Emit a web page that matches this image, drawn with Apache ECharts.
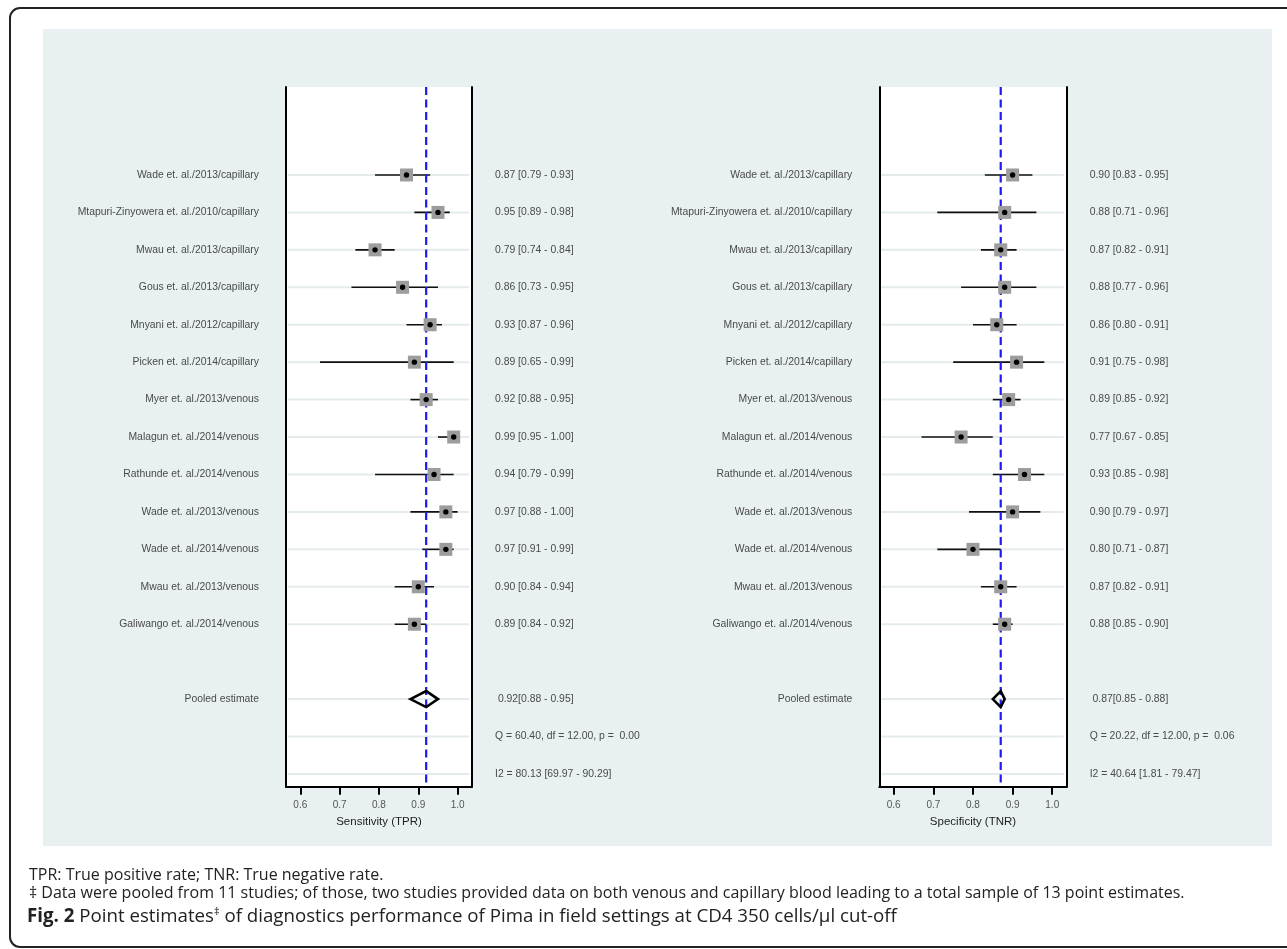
<!DOCTYPE html>
<html><head><meta charset="utf-8">
<script src="https://cdn.jsdelivr.net/npm/echarts@6/dist/echarts.min.js"></script>
<style>html,body{margin:0;padding:0;background:#fff;overflow:hidden}#c{width:1287px;height:949px}</style>
</head><body><div id="c"></div>
<script>
// ---------- DATA ----------
const studies = [
  'Wade et. al./2013/capillary',
  'Mtapuri-Zinyowera et. al./2010/capillary',
  'Mwau et. al./2013/capillary',
  'Gous et. al./2013/capillary',
  'Mnyani et. al./2012/capillary',
  'Picken et. al./2014/capillary',
  'Myer et. al./2013/venous',
  'Malagun et. al./2014/venous',
  'Rathunde et. al./2014/venous',
  'Wade et. al./2013/venous',
  'Wade et. al./2014/venous',
  'Mwau et. al./2013/venous',
  'Galiwango et. al./2014/venous'
];
const sensEst = [0.87, 0.95, 0.79, 0.86, 0.93, 0.89, 0.92, 0.99, 0.94, 0.97, 0.97, 0.90, 0.89];
const sensLo  = [0.79, 0.89, 0.74, 0.73, 0.87, 0.65, 0.88, 0.95, 0.79, 0.88, 0.91, 0.84, 0.84];
const sensHi  = [0.93, 0.98, 0.84, 0.95, 0.96, 0.99, 0.95, 1.00, 0.99, 1.00, 0.99, 0.94, 0.92];
const specEst = [0.90, 0.88, 0.87, 0.88, 0.86, 0.91, 0.89, 0.77, 0.93, 0.90, 0.80, 0.87, 0.88];
const specLo  = [0.83, 0.71, 0.82, 0.77, 0.80, 0.75, 0.85, 0.67, 0.85, 0.79, 0.71, 0.82, 0.85];
const specHi  = [0.95, 0.96, 0.91, 0.96, 0.91, 0.98, 0.92, 0.85, 0.98, 0.97, 0.87, 0.91, 0.90];
const pooledSens = [0.92, 0.88, 0.95];
const pooledSpec = [0.87, 0.85, 0.88];
const qSens = [60.40, 12.00, 0.00];
const qSpec = [20.22, 12.00, 0.06];
const i2Sens = [80.13, 69.97, 90.29];
const i2Spec = [40.64, 1.81, 79.47];
const pooledLabel = 'Pooled estimate';
const xTicks = [0.6, 0.7, 0.8, 0.9, 1.0];
const axisTitles = ['Sensitivity (TPR)', 'Specificity (TNR)'];
const captionLine1 = 'TPR: True positive rate; TNR: True negative rate.';
const captionLine2 = '\u2021 Data were pooled from 11 studies; of those, two studies provided data on both venous and capillary blood leading to a total sample of 13 point estimates.';
const figLabel = 'Fig. 2';
const figTitleA = ' Point estimates';
const figTitleB = ' of diagnostics performance of Pima in field settings at CD4 350 cells/\u03bcl cut-off';

// ---------- LAYOUT ----------
const FONT = '"Liberation Sans", Arial, Helvetica, sans-serif';
const CAPFONT = '"Open Sans", "Noto Sans", sans-serif';
const X_MIN = 0.5636, X_MAX = 1.0365;
const Y_MIN = -2.35, Y_MAX = 16.34;
const nS = studies.length;
const rowPooled = nS + 1, rowQ = nS + 2, rowI2 = nS + 3;
const f2 = v => v.toFixed(2);

const chart = echarts.init(document.getElementById('c'), null, {renderer: 'canvas', width: 1287, height: 949});

const grids = [
  {left: 286, top: 87, width: 186, height: 699.7, show: true, backgroundColor: '#ffffff', borderWidth: 0},
  {left: 879.3, top: 87, width: 187.4, height: 699.7, show: true, backgroundColor: '#ffffff', borderWidth: 0}
];

const xAxes = [0, 1].map(i => ({
  gridIndex: i, type: 'value', min: X_MIN, max: X_MAX,
  axisLine: {show: true, onZero: false, lineStyle: {color: '#000', width: 2}},
  axisTick: {show: true, customValues: xTicks, length: 8, lineStyle: {color: '#000', width: 2}},
  axisLabel: {show: true, customValues: xTicks, formatter: v => v.toFixed(1), margin: 14, fontSize: 10, color: '#555', fontFamily: FONT},
  splitLine: {show: false},
  name: axisTitles[i], nameLocation: 'middle', nameGap: 22,
  nameTextStyle: {fontSize: 11.5, color: '#222', fontFamily: FONT}
}));

const yAxes = [];
[0, 1].forEach(i => {
  ['left', 'right'].forEach(pos => {
    yAxes.push({
      gridIndex: i, type: 'value', inverse: true, min: Y_MIN, max: Y_MAX, position: pos,
      axisLine: {show: true, onZero: false, lineStyle: {color: '#000', width: 2}},
      axisTick: {show: false}, axisLabel: {show: false}, splitLine: {show: false}
    });
  });
});

function panelSeries(i, est, lo, hi, pooled, q, i2) {
  const xa = i, ya = 2 * i;
  const base = {type: 'custom', xAxisIndex: xa, yAxisIndex: ya, clip: false, silent: true, animation: false};
  const rowIdx = studies.map((_, k) => k).concat([rowPooled, rowQ, rowI2]);
  const leftTexts = studies.concat([pooledLabel]);
  const leftRows = studies.map((_, k) => k).concat([rowPooled]);
  const rightTexts = est.map((e, k) => f2(e) + ' [' + f2(lo[k]) + ' - ' + f2(hi[k]) + ']').concat([
    ' ' + f2(pooled[0]) + '[' + f2(pooled[1]) + ' - ' + f2(pooled[2]) + ']',
    'Q = ' + f2(q[0]) + ', df = ' + f2(q[1]) + ', p =  ' + f2(q[2]),
    'I2 = ' + f2(i2[0]) + ' [' + f2(i2[1]) + ' - ' + f2(i2[2]) + ']'
  ]);
  const rightRows = rowIdx;
  const series = [];
  // row guide lines
  series.push(Object.assign({}, base, {
    z: 1,
    data: rowIdx.map(r => [X_MIN, r]), encode: {x: 0, y: 1},
    renderItem: (params, api) => {
      const y = api.coord([api.value(0), api.value(1)])[1];
      const cs = params.coordSys;
      return {type: 'line', shape: {x1: cs.x + 2, y1: y, x2: cs.x + cs.width - 3, y2: y},
        style: {stroke: '#e3ebed', lineWidth: 2}};
    }
  }));
  // CI lines
  series.push(Object.assign({}, base, {
    z: 2,
    data: est.map((e, k) => [e, lo[k], hi[k], k]), encode: {x: [0, 1, 2], y: 3},
    renderItem: (params, api) => {
      const p1 = api.coord([api.value(1), api.value(3)]);
      const p2 = api.coord([api.value(2), api.value(3)]);
      return {type: 'line', shape: {x1: p1[0], y1: p1[1], x2: p2[0], y2: p2[1]},
        style: {stroke: '#111', lineWidth: 1.6}};
    }
  }));
  // pooled dashed line
  series.push(Object.assign({}, base, {
    z: 3,
    data: [[pooled[0], Y_MIN]], encode: {x: 0, y: 1},
    renderItem: (params, api) => {
      const x = api.coord([api.value(0), api.value(1)])[0];
      const cs = params.coordSys;
      return {type: 'line', shape: {x1: x, y1: cs.y, x2: x, y2: cs.y + cs.height},
        style: {stroke: '#1c1cf0', lineWidth: 2.2, lineDash: [8, 4.5]}};
    }
  }));
  // boxes + dots
  series.push(Object.assign({}, base, {
    z: 4,
    data: est.map((e, k) => [e, k]), encode: {x: 0, y: 1},
    renderItem: (params, api) => {
      const p = api.coord([api.value(0), api.value(1)]);
      const s = 13;
      return {type: 'group', children: [
        {type: 'rect', shape: {x: p[0] - s / 2, y: p[1] - s / 2, width: s, height: s}, style: {fill: '#9d9d9d'}},
        {type: 'circle', shape: {cx: p[0], cy: p[1], r: 2.7}, style: {fill: '#000'}}
      ]};
    }
  }));
  // pooled diamond
  series.push(Object.assign({}, base, {
    z: 5,
    data: [[pooled[0], pooled[1], pooled[2], rowPooled]], encode: {x: [0, 1, 2], y: 3},
    renderItem: (params, api) => {
      const c = api.coord([api.value(0), api.value(3)]);
      const l = api.coord([api.value(1), api.value(3)]);
      const r = api.coord([api.value(2), api.value(3)]);
      const h = 8;
      return {type: 'polygon', shape: {points: [[l[0], c[1]], [c[0], c[1] - h], [r[0], c[1]], [c[0], c[1] + h]]},
        style: {fill: 'none', stroke: '#000', lineWidth: 2.6, lineJoin: 'miter'}};
    }
  }));
  // left labels
  series.push(Object.assign({}, base, {
    z: 6,
    data: leftRows.map(r => [X_MIN, r]), encode: {x: 0, y: 1},
    renderItem: (params, api) => {
      const y = api.coord([api.value(0), api.value(1)])[1];
      const cs = params.coordSys;
      return {type: 'text', x: cs.x - 27, y: y,
        style: {text: leftTexts[params.dataIndex], align: 'right', verticalAlign: 'middle',
          fontSize: 10.4, fontFamily: FONT, fill: '#4a4a4a'}};
    }
  }));
  // right labels
  series.push(Object.assign({}, base, {
    z: 6,
    data: rightRows.map(r => [X_MAX, r]), encode: {x: 0, y: 1},
    renderItem: (params, api) => {
      const y = api.coord([api.value(0), api.value(1)])[1];
      const cs = params.coordSys;
      return {type: 'text', x: cs.x + cs.width + 23, y: y,
        style: {text: rightTexts[params.dataIndex], align: 'left', verticalAlign: 'middle',
          fontSize: 10.4, fontFamily: FONT, fill: '#4a4a4a'}};
    }
  }));
  return series;
}

const series = panelSeries(0, sensEst, sensLo, sensHi, pooledSens, qSens, i2Sens)
  .concat(panelSeries(1, specEst, specLo, specHi, pooledSpec, qSpec, i2Spec));

chart.setOption({
  animation: false,
  backgroundColor: '#ffffff',
  grid: grids,
  xAxis: xAxes,
  yAxis: yAxes,
  series: series,
  graphic: [
    {type: 'rect', z: -20, silent: true, shape: {x: 10, y: 8, width: 1400, height: 939, r: 10},
      style: {fill: '#ffffff', stroke: '#222', lineWidth: 2}},
    {type: 'rect', z: -10, silent: true, shape: {x: 43, y: 29, width: 1229, height: 817},
      style: {fill: '#e8f0f2'}},
    {type: 'text', z: 10, x: 29, y: 875,
      style: {text: captionLine1, fontSize: 16, fontFamily: CAPFONT, fill: '#222', verticalAlign: 'middle'}},
    {type: 'text', z: 10, x: 29, y: 893,
      style: {text: captionLine2, fontSize: 16, fontFamily: CAPFONT, fill: '#222', verticalAlign: 'middle'}},
    {type: 'text', z: 10, x: 27, y: 917,
      style: {
        verticalAlign: 'middle',
        text: '{b|' + figLabel + '}{n|' + figTitleA + '}{s|\u2021}{n|' + figTitleB + '}',
        rich: {
          b: {fontSize: 18.7, fontWeight: 'bold', fontFamily: CAPFONT, fill: '#222', color: '#222'},
          n: {fontSize: 18.7, fontFamily: CAPFONT, fill: '#222', color: '#222'},
          s: {fontSize: 11, fontFamily: CAPFONT, fill: '#222', color: '#222', verticalAlign: 'top', padding: [0, 0, 10, 0]}
        }
      }}
  ]
});
</script>
</body></html>
